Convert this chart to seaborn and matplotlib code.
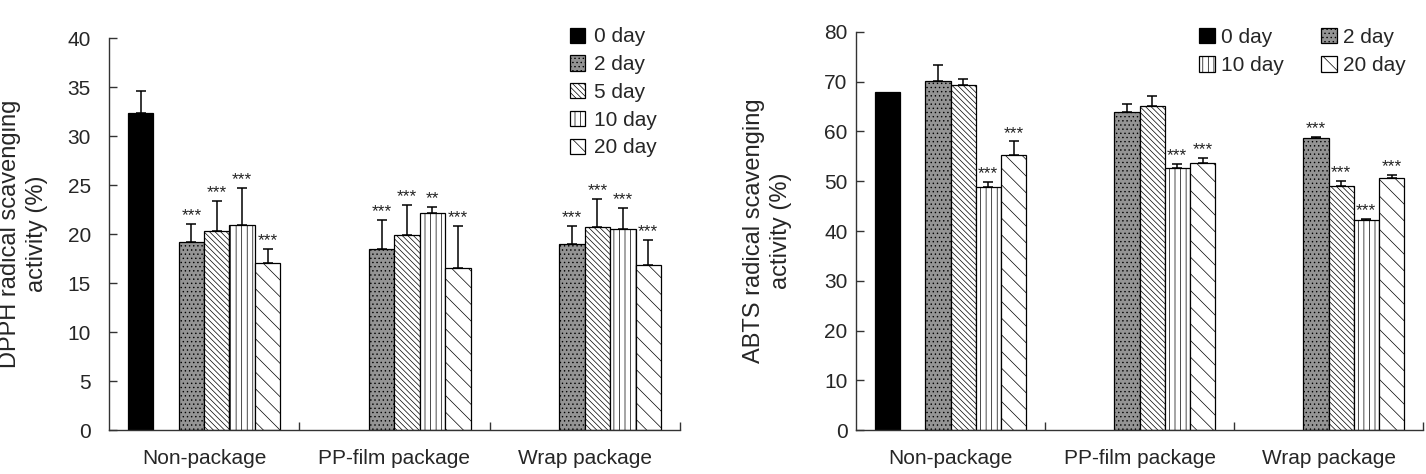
import numpy as np
import pandas as pd
import seaborn as sns
import matplotlib.pyplot as plt
import matplotlib.patches as mpatches

sns.set_style('ticks')
plt.rcParams['font.family'] = ['Liberation Sans', 'DejaVu Sans']
plt.rcParams['hatch.linewidth'] = 0.5

groups = ['Non-package', 'PP-film package', 'Wrap package']
days = ['0 day', '2 day', '5 day', '10 day', '20 day']

# DPPH radical scavenging activity (%) - 0 day only for fresh sample
dpph_0day, dpph_0day_err = 32.3, 2.3
dpph_2day = [19.2, 18.5, 19.0]
dpph_5day = [20.3, 19.9, 20.7]
dpph_10day = [20.9, 22.1, 20.5]
dpph_20day = [17.0, 16.5, 16.8]
dpph_2day_err = [1.8, 2.9, 1.8]
dpph_5day_err = [3.1, 3.1, 2.9]
dpph_10day_err = [3.8, 0.7, 2.2]
dpph_20day_err = [1.5, 4.3, 2.6]
dpph_2day_sig = ['***', '***', '***']
dpph_5day_sig = ['***', '***', '***']
dpph_10day_sig = ['***', '**', '***']
dpph_20day_sig = ['***', '***', '***']

# ABTS radical scavenging activity (%)
abts_0day, abts_0day_err = 67.9, 0.0
abts_2day = [70.1, 63.9, 58.6]
abts_5day = [69.3, 65.1, 49.0]
abts_10day = [48.8, 52.7, 42.2]
abts_20day = [55.3, 53.7, 50.7]
abts_2day_err = [3.3, 1.6, 0.3]
abts_5day_err = [1.3, 2.1, 1.1]
abts_10day_err = [1.1, 0.8, 0.15]
abts_20day_err = [2.7, 1.0, 0.6]
abts_2day_sig = ['', '', '***']
abts_5day_sig = ['', '', '***']
abts_10day_sig = ['***', '***', '***']
abts_20day_sig = ['***', '***', '***']

# 6 slots per group, second one stays empty
hue_order = ['0 day', 'gap', '2 day', '5 day', '10 day', '20 day']
palette = {'0 day': 'black', 'gap': 'white', '2 day': '#949494',
           '5 day': 'white', '10 day': 'white', '20 day': 'white'}
hatches = {'0 day': None, 'gap': None, '2 day': '....',
           '5 day': '\\\\\\\\\\\\', '10 day': '|||', '20 day': '\\\\'}


def build_df(v0, e0, vals, errs, sigs):
    rows = [dict(group=groups[0], day='0 day', value=v0, err=e0, sig='')]
    for day, v, e, s in zip(days[1:], vals, errs, sigs):
        for g, vi, ei, si in zip(groups, v, e, s):
            rows.append(dict(group=g, day=day, value=vi, err=ei, sig=si))
    return pd.DataFrame(rows)


dpph = build_df(dpph_0day, dpph_0day_err,
                [dpph_2day, dpph_5day, dpph_10day, dpph_20day],
                [dpph_2day_err, dpph_5day_err, dpph_10day_err, dpph_20day_err],
                [dpph_2day_sig, dpph_5day_sig, dpph_10day_sig, dpph_20day_sig])
abts = build_df(abts_0day, abts_0day_err,
                [abts_2day, abts_5day, abts_10day, abts_20day],
                [abts_2day_err, abts_5day_err, abts_10day_err, abts_20day_err],
                [abts_2day_sig, abts_5day_sig, abts_10day_sig, abts_20day_sig])


def draw_panel(ax, df, ymax, ystep, ylabel, ypad, label_x):
    sns.barplot(data=df, x='group', y='value', hue='day', order=groups,
                hue_order=hue_order, palette=palette, saturation=1,
                errorbar=None, width=0.8, edgecolor='black', linewidth=0.9,
                legend=False, ax=ax)
    step = 0.8 / len(hue_order)
    for p in list(ax.patches):
        xc = p.get_x() + p.get_width() / 2
        gi = int(round(xc))
        day = hue_order[int(round((xc - gi + 0.4) / step - 0.5))]
        row = df[(df.group == groups[gi]) & (df.day == day)].iloc[0]
        if hatches[day]:
            p.set_hatch(hatches[day])
        if row.err > 0:
            ax.errorbar(xc, row.value, yerr=[[0], [row.err]], color='black',
                        lw=1.1, capsize=3.5, capthick=1.1)
        if row.sig:
            ax.annotate(row.sig, (xc, row.value + row.err), xytext=(0, 0.5),
                        textcoords='offset points', ha='center', va='bottom',
                        fontsize=12.5, color='#222222')

    ax.set_xlim(-0.5, 2.5)
    ax.set_ylim(0, ymax)
    ax.set_yticks(np.arange(0, ymax + 1, ystep))
    ax.set_xticks([0.5, 1.5, 2.5], minor=True)
    ax.tick_params(axis='x', which='major', length=0, labelsize=15, pad=14)
    ax.tick_params(axis='x', which='minor', direction='in', length=6,
                   width=1, color='#333333')
    ax.tick_params(axis='y', direction='in', length=6, width=1,
                   color='#333333', labelsize=15, pad=ypad)
    for s in ['top', 'right']:
        ax.spines[s].set_visible(False)
    for s in ['left', 'bottom']:
        ax.spines[s].set_color('#333333')
        ax.spines[s].set_linewidth(1)
    ax.set_xlabel('')
    ax.set_ylabel(ylabel, fontsize=17, linespacing=1.3)
    ax.yaxis.set_label_coords(label_x, 0.5)


def legend_handle(day):
    return mpatches.Patch(facecolor=palette[day], edgecolor='black',
                          hatch=hatches[day], linewidth=0.9, label=day)


fig = plt.figure(figsize=(14.26, 4.74), dpi=100)
ax1 = fig.add_axes([0.0764, 0.0928, 0.4004, 0.827])
ax2 = fig.add_axes([0.6003, 0.0928, 0.3976, 0.8397])

draw_panel(ax1, dpph, 40, 5, 'DPPH radical scavenging\nactivity (%)', 13, -0.106)
draw_panel(ax2, abts, 80, 10, 'ABTS radical scavenging\nactivity (%)', 6, -0.113)

ax1.legend(handles=[legend_handle(d) for d in days], loc='upper left',
           bbox_to_anchor=(0.807, 1.027), frameon=False, fontsize=15,
           handlelength=0.75, handleheight=0.75, handletextpad=0.4,
           labelspacing=0.42, borderpad=0, borderaxespad=0)
ax2.legend(handles=[legend_handle(d) for d in ['0 day', '10 day', '2 day', '20 day']],
           loc='upper left', ncol=2, bbox_to_anchor=(0.605, 1.01),
           frameon=False, fontsize=15, handlelength=0.75, handleheight=0.75,
           handletextpad=0.3, labelspacing=0.45, columnspacing=1.8,
           borderpad=0, borderaxespad=0)

fig.savefig('out.png', dpi=100)
